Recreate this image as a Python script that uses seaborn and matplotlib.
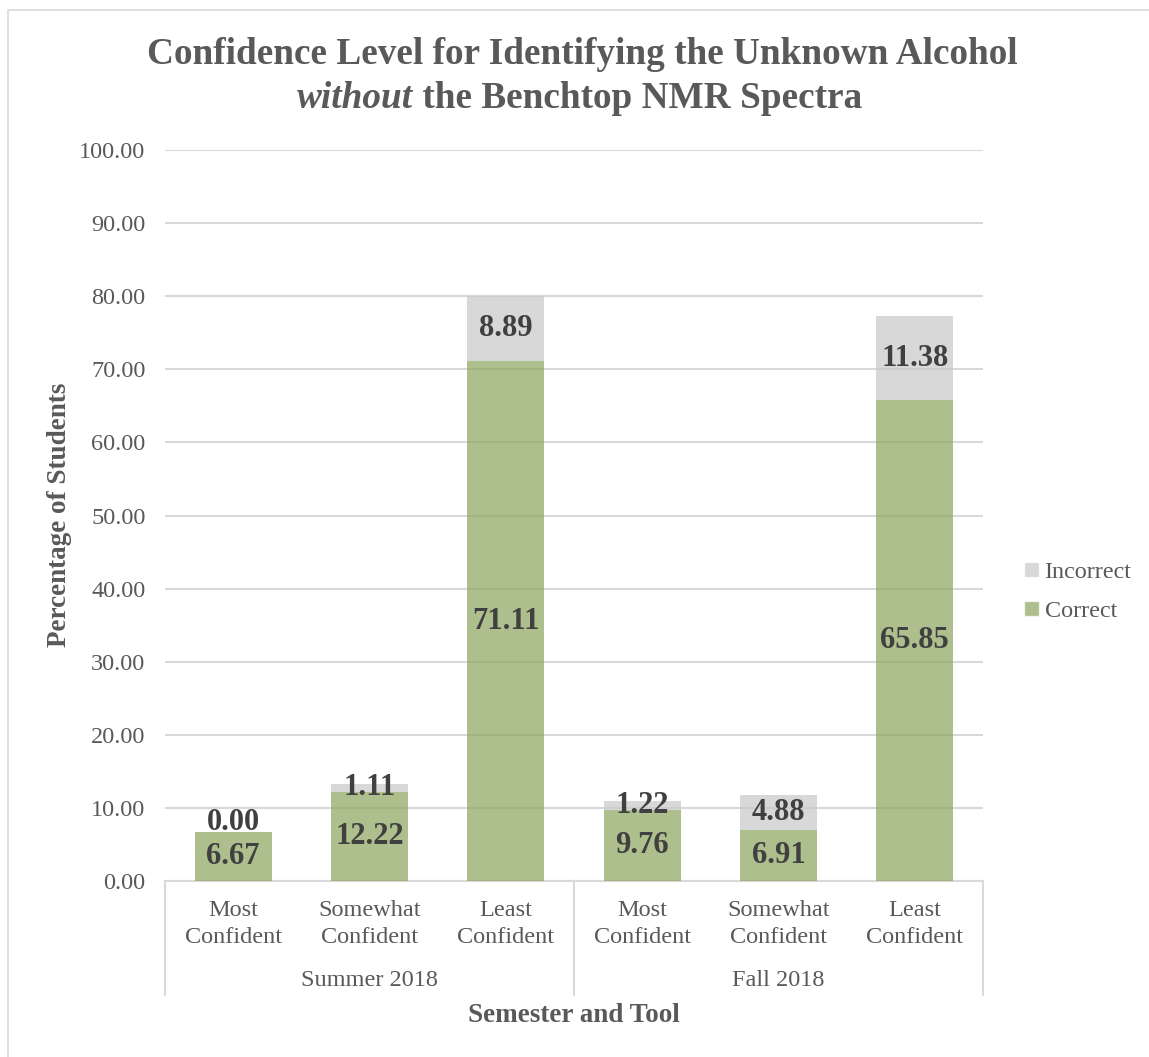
import matplotlib
matplotlib.use("Agg")
import matplotlib.pyplot as plt
from matplotlib.patches import Patch, Rectangle
import seaborn as sns
import pandas as pd

# ---- data -------------------------------------------------------------
semesters = ["Summer 2018", "Fall 2018"]
confidence = ["Most\nConfident", "Somewhat\nConfident", "Least\nConfident"]
correct = [6.67, 12.22, 71.11, 9.76, 6.91, 65.85]
incorrect = [0.00, 1.11, 8.89, 1.22, 4.88, 11.38]
y_ticks = [0, 10, 20, 30, 40, 50, 60, 70, 80, 90, 100]

keys = [f"{s}|{c}" for s in semesters for c in confidence]
df = pd.DataFrame({
    "key": keys,
    "Correct": correct,
    "Incorrect": incorrect,
})

# ---- style ------------------------------------------------------------
sns.set_theme(style="white")
plt.rcParams["font.family"] = ["Liberation Serif", "DejaVu Serif"]
text_col = "#595959"
label_col = "#404040"
grid_col = "#d9d9d9"
green = "#8aa55c"
gray = "#c8c8c8"

W, H = 1149, 1057
fig = plt.figure(figsize=(W / 100, H / 100), dpi=100)
ax = fig.add_axes([165 / W, 1 - 881 / H, (983 - 165) / W, (881 - 150) / H])

# chart-area frame
fig.patches.append(Rectangle((8 / W, -0.05), 1.2, 1 - 10 / H + 0.05,
                             transform=fig.transFigure, fill=False,
                             edgecolor=grid_col, linewidth=1.2, zorder=0))

# stacked bars: correct at the bottom, incorrect stacked on top
bar_w = 0.565
sns.barplot(data=df, x="key", y="Correct", order=keys, color=green, alpha=0.7,
            width=bar_w, saturation=1, ax=ax, zorder=3, errorbar=None)
n_correct = len(ax.patches)
sns.barplot(data=df, x="key", y="Incorrect", order=keys, color=gray, alpha=0.7,
            width=bar_w, saturation=1, ax=ax, zorder=3, errorbar=None)
for p, base in zip(ax.patches[n_correct:], correct):
    p.set_y(base)
for p in ax.patches:
    p.set_edgecolor("none")

ax.set_ylim(0, 100)
ax.set_xlim(-0.5, len(keys) - 0.5)
ax.set_yticks(y_ticks)
ax.set_yticklabels([f"{v:.2f}" for v in y_ticks])
ax.yaxis.grid(True, color=grid_col, linewidth=1.5, zorder=1)
ax.set_axisbelow(True)
for side in ["left", "right", "top"]:
    ax.spines[side].set_visible(False)
ax.spines["bottom"].set_color(grid_col)
ax.spines["bottom"].set_linewidth(1.5)
ax.tick_params(axis="y", length=0, pad=14, labelsize=17.5, labelcolor=text_col)
ax.tick_params(axis="x", length=0, pad=14, labelsize=17.5, labelcolor=text_col)
ax.set_xticks(range(len(keys)))
ax.set_xticklabels([k.split("|")[1] for k in keys], linespacing=1.35)
ax.set_xlabel("")
ax.set_ylabel("")

# group separators and semester labels under the axis
trans = ax.get_xaxis_transform()
sep_bottom = (881 - 995) / 731
for xs in [-0.5, 2.5, 5.5]:
    ax.plot([xs, xs], [0, sep_bottom], transform=trans, color=grid_col,
            linewidth=1.5, clip_on=False)
for i, s in enumerate(semesters):
    ax.text(i * 3 + 1, (881 - 980) / 731, s, transform=trans, ha="center",
            va="center", fontsize=17.5, color=text_col)

# data labels centred in each segment
lab_kw = dict(ha="center", fontsize=22, fontweight="bold", color=label_col,
              zorder=5)
for i, (c, w) in enumerate(zip(correct, incorrect)):
    ax.text(i, c / 2, f"{c:.2f}", va="center", **lab_kw)
    if w > 0:
        ax.text(i, c + w / 2, f"{w:.2f}", va="center", **lab_kw)
    else:
        ax.text(i, c - 0.7, f"{w:.2f}", va="bottom", **lab_kw)

# axis titles
fig.text(574 / W, 1 - 1015 / H, "Semester and Tool", ha="center", va="center",
         fontsize=19.5, fontweight="bold", color=text_col)
fig.text(60 / W, 1 - 515 / H, "Percentage of Students", ha="center",
         va="center", rotation=90, fontsize=19.5, fontweight="bold",
         color=text_col)

# legend
handles = [Patch(facecolor=gray, alpha=0.7, label="Incorrect"),
           Patch(facecolor=green, alpha=0.7, label="Correct")]
leg = fig.legend(handles=handles, loc="center left",
                 bbox_to_anchor=(1024 / W, 1 - 592 / H), frameon=False,
                 fontsize=17.4, handlelength=0.6, handleheight=0.6,
                 handletextpad=0.25, labelspacing=0.75, labelcolor=text_col,
                 borderaxespad=0, borderpad=0)

# two-line title with italic word on the second line
title_kw = dict(fontsize=26.8, fontweight="bold", color=text_col, va="center")
fig.text(582 / W, 1 - 54 / H, "Confidence Level for Identifying the Unknown Alcohol",
         ha="center", **title_kw)
t1 = fig.text(0, 1 - 99 / H, "without", ha="left", style="italic", **title_kw)
t2 = fig.text(0, 1 - 99 / H, " the Benchtop NMR Spectra", ha="left", **title_kw)
r = fig.canvas.get_renderer()
w1 = t1.get_window_extent(r).width
w2 = t2.get_window_extent(r).width
x0 = 580 - (w1 + w2) / 2
t1.set_x(x0 / W)
t2.set_x((x0 + w1) / W)

fig.savefig("out.png", dpi=100)
